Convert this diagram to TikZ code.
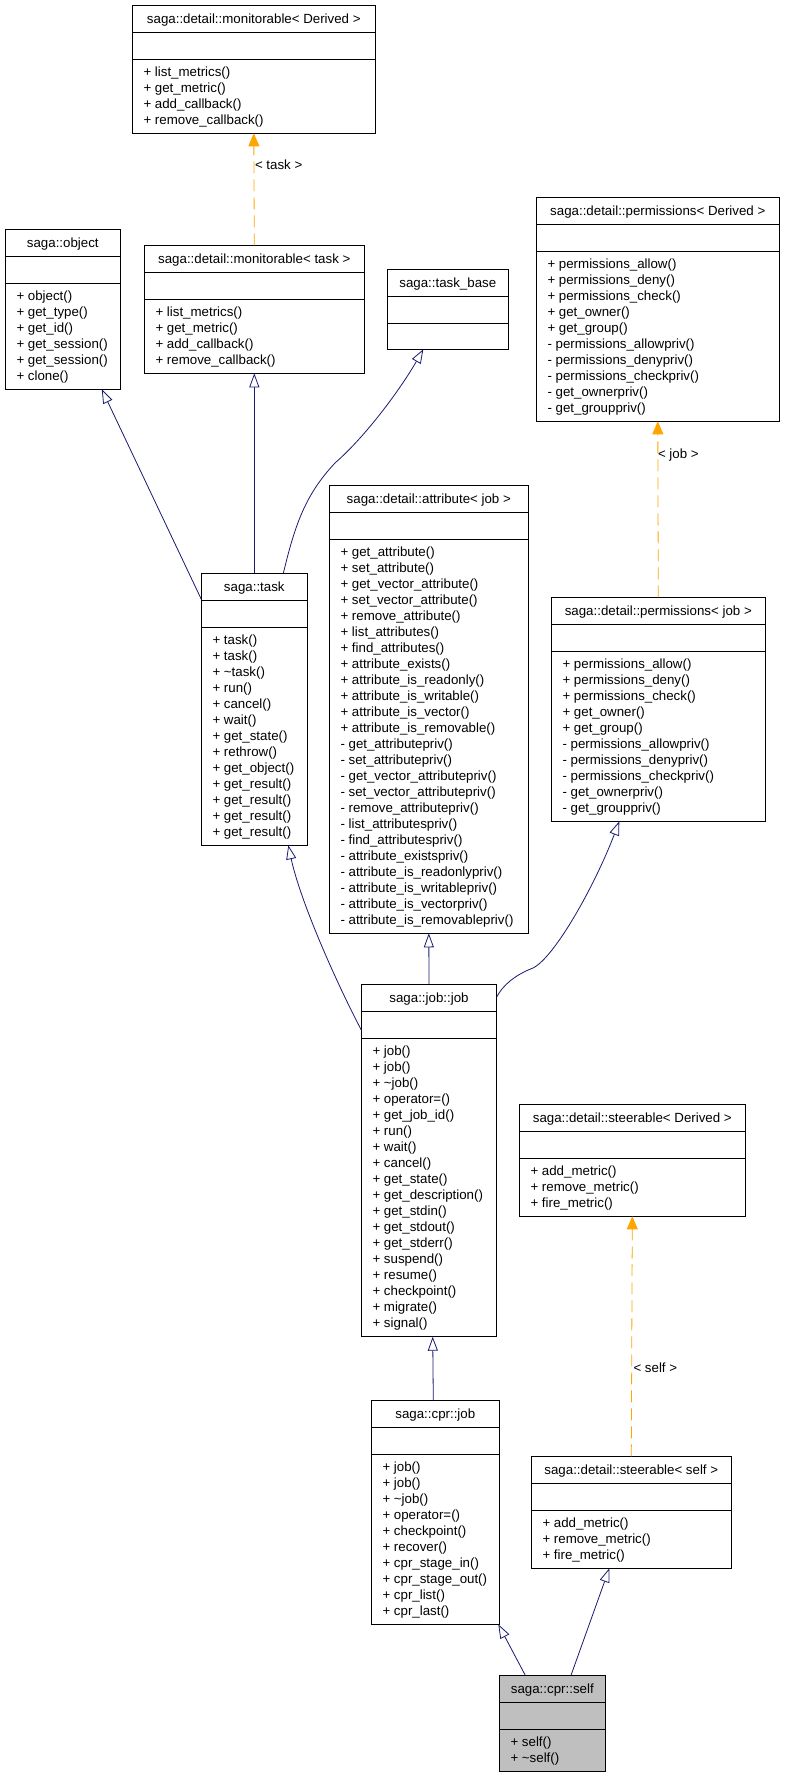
\documentclass[tikz,border=0pt]{standalone}
\usepackage{fontspec}
\setmainfont{Liberation Sans}
\usetikzlibrary{arrows.meta,calc}
\definecolor{navyline}{HTML}{191970}
\definecolor{orangeline}{HTML}{FFA500}
\definecolor{selfgray}{HTML}{BFBFBF}

\tikzset{
  classbox/.style={draw=black, line width=1pt, inner sep=0pt, outer sep=0pt},
  classtitle/.style={anchor=base, inner sep=0pt, font=\fontsize{13.3}{16}\selectfont},
  member/.style={anchor=base west, inner sep=0pt, font=\fontsize{13.3}{16}\selectfont},
  tlabel/.style={anchor=base west, inner sep=0pt, font=\fontsize{13.3}{16}\selectfont},
  inherit/.style={draw=navyline, line width=0.8pt, -{Triangle[open, length=14pt, width=10pt]}},
  templ/.style={draw=orangeline, line width=0.8pt, dash pattern=on 12pt off 6pt,
    -{Triangle[length=13pt, width=11pt, fill=orangeline]}}
}

\newcommand{\umlclass}[7][white]{%
  \node[classbox, fill=#1, minimum width=#5pt, minimum height=#6pt, anchor=north west] (#2) at (#3,#4) {};
  \node[classtitle] (#2-title) at ($(#2.north)+(0,18)$) {#7};
  \draw[line width=1pt] ($(#2.north west)+(0,27)$) -- ($(#2.north east)+(0,27)$);
  \draw[line width=1pt] ($(#2.north west)+(0,54)$) -- ($(#2.north east)+(0,54)$);
}
\newcommand{\umlmembers}[2]{%
  \foreach \m [count=\i from 0] in {#2} {
    \node[member] (#1-m\i) at ($(#1.north west)+(11,71+16*\i)$) {\m};
  }%
}

\begin{document}
\begin{tikzpicture}[x=1pt, y=-1pt]
\useasboundingbox (0,0) rectangle (784,1776);

\umlclass{monD}{132.3}{5.3}{243}{128}{saga::detail::monitorable< Derived >}
\umlmembers{monD}{+ list\_metrics(), + get\_metric(), + add\_callback(), + remove\_callback()}

\umlclass{object}{5.3}{229.3}{115}{160}{saga::object}
\umlmembers{object}{+ object(), + get\_type(), + get\_id(), + get\_session(), + get\_session(), + clone()}

\umlclass{monT}{144.3}{245.3}{220}{128}{saga::detail::monitorable< task >}
\umlmembers{monT}{+ list\_metrics(), + get\_metric(), + add\_callback(), + remove\_callback()}

\umlclass{taskbase}{387.3}{269.3}{121}{80}{saga::task\_base}

\umlclass{permD}{536.3}{197.3}{243}{224}{saga::detail::permissions< Derived >}
\umlmembers{permD}{+ permissions\_allow(), + permissions\_deny(), + permissions\_check(), + get\_owner(),
  + get\_group(), - permissions\_allowpriv(), - permissions\_denypriv(), - permissions\_checkpriv(),
  - get\_ownerpriv(), - get\_grouppriv()}

\umlclass{attr}{329.3}{485.3}{199}{448}{saga::detail::attribute< job >}
\umlmembers{attr}{+ get\_attribute(), + set\_attribute(), + get\_vector\_attribute(), + set\_vector\_attribute(),
  + remove\_attribute(), + list\_attributes(), + find\_attributes(), + attribute\_exists(),
  + attribute\_is\_readonly(), + attribute\_is\_writable(), + attribute\_is\_vector(), + attribute\_is\_removable(),
  - get\_attributepriv(), - set\_attributepriv(), - get\_vector\_attributepriv(), - set\_vector\_attributepriv(),
  - remove\_attributepriv(), - list\_attributespriv(), - find\_attributespriv(), - attribute\_existspriv(),
  - attribute\_is\_readonlypriv(), - attribute\_is\_writablepriv(), - attribute\_is\_vectorpriv(),
  - attribute\_is\_removablepriv()}

\umlclass{task}{201.3}{573.3}{106}{272}{saga::task}
\umlmembers{task}{+ task(), + task(), + \textasciitilde task(), + run(), + cancel(), + wait(), + get\_state(),
  + rethrow(), + get\_object(), + get\_result(), + get\_result(), + get\_result(), + get\_result()}

\umlclass{permJ}{551.3}{597.3}{214}{224}{saga::detail::permissions< job >}
\umlmembers{permJ}{+ permissions\_allow(), + permissions\_deny(), + permissions\_check(), + get\_owner(),
  + get\_group(), - permissions\_allowpriv(), - permissions\_denypriv(), - permissions\_checkpriv(),
  - get\_ownerpriv(), - get\_grouppriv()}

\umlclass{job}{361.3}{984}{135.4}{352.7}{saga::job::job}
\umlmembers{job}{+ job(), + job(), + \textasciitilde job(), + operator=(), + get\_job\_id(), + run(), + wait(),
  + cancel(), + get\_state(), + get\_description(), + get\_stdin(), + get\_stdout(), + get\_stderr(),
  + suspend(), + resume(), + checkpoint(), + migrate(), + signal()}

\umlclass{steerD}{519.3}{1104.3}{226}{112}{saga::detail::steerable< Derived >}
\umlmembers{steerD}{+ add\_metric(), + remove\_metric(), + fire\_metric()}

\umlclass{cprjob}{371.3}{1400.3}{128}{224}{saga::cpr::job}
\umlmembers{cprjob}{+ job(), + job(), + \textasciitilde job(), + operator=(), + checkpoint(), + recover(),
  + cpr\_stage\_in(), + cpr\_stage\_out(), + cpr\_list(), + cpr\_last()}

\umlclass{steerS}{531.3}{1456.3}{200}{112}{saga::detail::steerable< self >}
\umlmembers{steerS}{+ add\_metric(), + remove\_metric(), + fire\_metric()}

\umlclass[selfgray]{self}{499.3}{1675.3}{106}{96}{saga::cpr::self}
\umlmembers{self}{+ self(), + \textasciitilde self()}

\draw[templ] (monT.north) -- (monD.south);
\node[tlabel] (lbltask) at ($(monD.south)+(1,36.5)$) {< task >};
\draw[templ] (permJ.north) -- (permD.south);
\node[tlabel] (lbljob) at ($(permD.south)+(0,37)$) {< job >};
\draw[templ] (steerS.north) -- (steerD.south);
\node[tlabel] (lblself) at ($(steerD.south)+(1,156)$) {< self >};

\draw[inherit] ($(task.north west)+(0,26)$) -- ($(object.south west)+(96.5,0)$);
\draw[inherit] (task.north) -- (monT.south);
\draw[inherit] ($(task.north west)+(82,0)$) .. controls (295,525) and (305,495) .. (335,463)
  .. controls (365,437) and (400,390) .. ($(taskbase.south west)+(36,0)$);
\draw[inherit] (job.north) -- (attr.south);
\draw[inherit] ($(job.north west)+(0,46)$) .. controls (335,980) and (300,900) .. ($(task.south west)+(87,0)$);
\draw[inherit] ($(job.north east)+(0,13)$) .. controls (503,985) and (515,975) .. (533,968)
  .. controls (555,957) and (595,885) .. ($(permJ.south west)+(68,0)$);
\draw[inherit] ($(cprjob.north west)+(62,0)$) -- ($(job.south west)+(71.4,0)$);
\draw[inherit] ($(self.north west)+(26,0)$) -- ($(cprjob.south east)+(-1,0)$);
\draw[inherit] ($(self.north west)+(71.7,0)$) -- ($(steerS.south west)+(78,0)$);
\end{tikzpicture}
\end{document}
